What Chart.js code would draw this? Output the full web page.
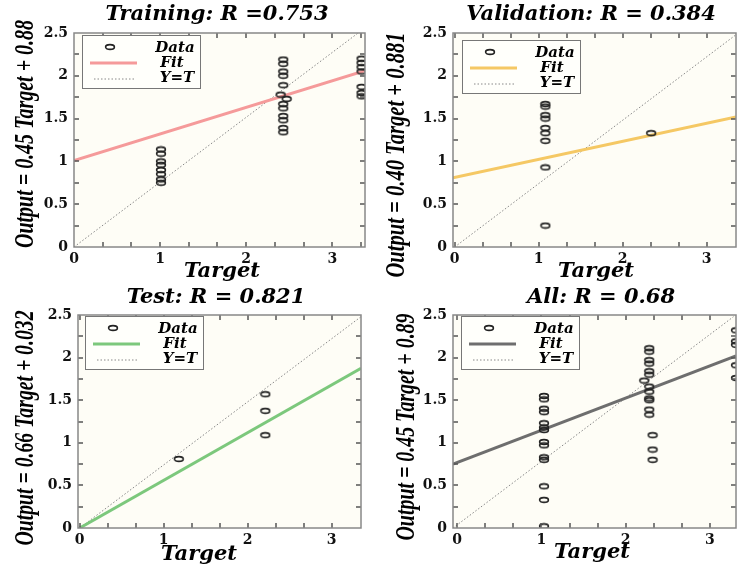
<!DOCTYPE html>
<html>
<head>
<meta charset="utf-8">
<script src="https://cdn.jsdelivr.net/npm/chart.js@4.4.1/dist/chart.umd.min.js"></script>
<style>
    html, body { margin: 0; padding: 0; background: #fff; }
    #wrap { position: relative; width: 742px; height: 567px; overflow: hidden; }
    .panel { position: absolute; }
    .panel canvas { display: block; }
</style>
</head>
<body>
<div id="wrap">
    <div class="panel" style="left:0;top:0"><canvas id="c1" width="371" height="283"></canvas></div>
    <div class="panel" style="left:371px;top:0"><canvas id="c2" width="371" height="283"></canvas></div>
    <div class="panel" style="left:0;top:283px"><canvas id="c3" width="371" height="284"></canvas></div>
    <div class="panel" style="left:371px;top:283px"><canvas id="c4" width="371" height="284"></canvas></div>
</div>
<script>
// 训练集
const trainTarget = [1.01, 1.01, 1.01, 1.01, 1.01, 1.01, 1.01, 1.01,
    2.43, 2.43, 2.43, 2.43, 2.43, 2.40, 2.47, 2.43, 2.43, 2.43, 2.43, 2.43, 2.43,
    3.34, 3.34, 3.34, 3.34, 3.34, 3.34, 3.34];
const trainOutput = [1.14, 1.09, 1.00, 0.96, 0.90, 0.85, 0.79, 0.75,
    2.19, 2.14, 2.05, 2.00, 1.89, 1.78, 1.73, 1.67, 1.62, 1.53, 1.48, 1.39, 1.34,
    2.20, 2.15, 2.10, 2.05, 1.87, 1.80, 1.76];
const trainFitX = [0, 3.38];
const trainFitY = [1.01, 2.06];
const trainIdX = [0, 3.3];
const trainIdY = [0, 2.5];

// 验证集
const valTarget = [1.08, 1.08, 1.08, 1.08, 1.08, 1.08, 1.08, 1.08, 1.08, 1.08, 2.34];
const valOutput = [1.89, 1.67, 1.64, 1.54, 1.50, 1.39, 1.33, 1.24, 0.93, 0.25, 1.33];
const valFitX = [-0.02, 3.35];
const valFitY = [0.81, 1.52];
const valIdX = [0, 3.35];
const valIdY = [0, 2.48];

// 测试集
const testTarget = [1.18, 2.21, 2.21, 2.21];
const testOutput = [0.81, 1.57, 1.375, 1.09];
const testFitX = [0, 3.35];
const testFitY = [0, 1.875];
const testIdX = [0, 3.35];
const testIdY = [0, 2.48];

// 全部
const allTarget = [1.03, 1.03, 1.03, 1.03, 1.03, 1.03, 1.03, 1.03, 1.03, 1.03, 1.03, 1.03, 1.03, 1.03,
    2.28, 2.28, 2.28, 2.28, 2.28, 2.28, 2.22, 2.28, 2.28, 2.28, 2.28, 2.28, 2.28, 2.32, 2.32, 2.32,
    3.31, 3.31, 3.31, 3.31, 3.31];
const allOutput = [1.55, 1.51, 1.40, 1.36, 1.23, 1.18, 1.15, 1.01, 0.97, 0.83, 0.80, 0.49, 0.33, 0.02,
    2.11, 2.07, 1.97, 1.93, 1.84, 1.80, 1.73, 1.66, 1.60, 1.52, 1.50, 1.39, 1.33, 1.09, 0.92, 0.80,
    2.32, 2.19, 2.15, 1.91, 1.76];
const allFitX = [-0.05, 3.31];
const allFitY = [0.75, 2.02];
const allIdX = [-0.05, 3.28];
const allIdY = [0, 2.48];

const yTicks = [0, 0.5, 1, 1.5, 2, 2.5];
const xTicks = [0, 1, 2, 3];
const xMinorStep = 1 / 3;
const yMinorStep = 0.25;

const panels = [
    { id: 'c1', title: 'Training: R =0.753', yTitle: 'Output = 0.45 Target + 0.88',
      target: trainTarget, output: trainOutput, fitX: trainFitX, fitY: trainFitY, idX: trainIdX, idY: trainIdY,
      color: '#f59a9a', xMin: 0, xMax: 3.38,
      area: { left: 74, top: 33, right: 370, bottom: 247 },
      titlePos: [217, 15], xTitlePos: [222, 272], yTitlePos: [33, 134, 228], legendPos: [8, 2] },
    { id: 'c2', title: 'Validation: R = 0.384', yTitle: 'Output = 0.40 Target + 0.881',
      target: valTarget, output: valOutput, fitX: valFitX, fitY: valFitY, idX: valIdX, idY: valIdY,
      color: '#f5c864', xMin: -0.02, xMax: 3.35,
      area: { left: 82, top: 33, right: 370, bottom: 247 },
      titlePos: [220, 15], xTitlePos: [225, 272], yTitlePos: [33, 155, 245], legendPos: [9, 7] },
    { id: 'c3', title: 'Test: R = 0.821', yTitle: 'Output = 0.66 Target + 0.032',
      target: testTarget, output: testOutput, fitX: testFitX, fitY: testFitY, idX: testIdX, idY: testIdY,
      color: '#7cc87c', xMin: -0.02, xMax: 3.35,
      area: { left: 78, top: 32, right: 361, bottom: 245 },
      titlePos: [216, 15], xTitlePos: [199, 272], yTitlePos: [33, 145, 235], legendPos: [7, 1] },
    { id: 'c4', title: 'All: R = 0.68', yTitle: 'Output = 0.45 Target + 0.89',
      target: allTarget, output: allOutput, fitX: allFitX, fitY: allFitY, idX: allIdX, idY: allIdY,
      color: '#6e6e6e', xMin: -0.05, xMax: 3.31,
      area: { left: 82, top: 32, right: 370, bottom: 245 },
      titlePos: [230, 15], xTitlePos: [221, 270], yTitlePos: [43, 144, 227], legendPos: [8, 1] }
];

// 椭圆数据点
function makeMarker() {
    const c = document.createElement('canvas');
    c.width = 12;
    c.height = 8;
    const g = c.getContext('2d');
    g.strokeStyle = '#222';
    g.lineWidth = 1.6;
    g.beginPath();
    g.ellipse(6, 4, 4.4, 2.4, 0, 0, Math.PI * 2);
    g.stroke();
    return c;
}
const marker = makeMarker();

function seg(ctx, x1, y1, x2, y2) {
    ctx.moveTo(x1, y1);
    ctx.lineTo(x2, y2);
}

// 边框、内刻度、图例、标题
function decorPlugin(p) {
    return {
        id: 'decor',
        beforeDraw(chart) {
            const { ctx, chartArea: a } = chart;
            ctx.save();
            ctx.fillStyle = '#fefdf6';
            ctx.fillRect(a.left, a.top, a.right - a.left, a.bottom - a.top);
            ctx.restore();
        },
        afterDatasetsDraw(chart) {
            const { ctx, chartArea: a } = chart;
            const xs = chart.scales.x, ys = chart.scales.y;
            ctx.save();
            ctx.setLineDash([]);
            ctx.strokeStyle = '#555';
            ctx.lineWidth = 1.5;
            ctx.beginPath();
            for (let k = Math.ceil(p.xMin / xMinorStep); k * xMinorStep < p.xMax; k++) {
                const px = Math.round(xs.getPixelForValue(k * xMinorStep));
                if (px <= a.left + 1 || px >= a.right - 1) continue;
                seg(ctx, px, a.bottom, px, a.bottom - 5);
                seg(ctx, px, a.top, px, a.top + 5);
            }
            for (let k = 1; k * yMinorStep < 2.5; k++) {
                const py = Math.round(ys.getPixelForValue(k * yMinorStep));
                seg(ctx, a.left, py, a.left + 5, py);
                seg(ctx, a.right, py, a.right - 5, py);
            }
            ctx.stroke();
            ctx.strokeStyle = '#888';
            ctx.lineWidth = 1.5;
            ctx.strokeRect(a.left, a.top, a.right - a.left, a.bottom - a.top);

            // 图例
            const bx = a.left + p.legendPos[0], by = a.top + p.legendPos[1];
            const ds = chart.data.datasets;
            ctx.fillStyle = '#fffffb';
            ctx.fillRect(bx, by, 118, 53);
            ctx.strokeStyle = '#777';
            ctx.lineWidth = 1;
            ctx.strokeRect(bx + 0.5, by + 0.5, 118, 53);
            ctx.drawImage(marker, bx + 28 - 6, by + 12 - 4);
            ctx.strokeStyle = ds[1].borderColor;
            ctx.lineWidth = 3;
            ctx.beginPath();
            seg(ctx, bx + 8, by + 28, bx + 55, by + 28);
            ctx.stroke();
            ctx.strokeStyle = ds[2].borderColor;
            ctx.lineWidth = 1;
            ctx.setLineDash([1.5, 2]);
            ctx.beginPath();
            seg(ctx, bx + 12, by + 44, bx + 52, by + 44);
            ctx.stroke();
            ctx.setLineDash([]);
            ctx.fillStyle = '#000';
            ctx.font = 'italic bold 15px "DejaVu Serif"';
            ctx.textAlign = 'center';
            ctx.textBaseline = 'middle';
            ctx.fillText(ds[0].label, bx + 93, by + 13);
            ctx.fillText(ds[1].label, bx + 90, by + 28);
            ctx.fillText(ds[2].label, bx + 95, by + 43);
            ctx.restore();
        },
        afterDraw(chart) {
            const ctx = chart.ctx;
            ctx.save();
            ctx.fillStyle = '#000';
            ctx.textAlign = 'center';
            ctx.textBaseline = 'middle';
            ctx.font = 'italic bold 21px "DejaVu Serif"';
            ctx.fillText(p.title, p.titlePos[0], p.titlePos[1]);
            ctx.fillText('Target', p.xTitlePos[0], p.xTitlePos[1]);

            // 纵轴标题（压窄）
            ctx.font = 'italic bold 28px "Liberation Serif"';
            ctx.textBaseline = 'alphabetic';
            const w = ctx.measureText(p.yTitle).width;
            ctx.translate(p.yTitlePos[0], p.yTitlePos[1]);
            ctx.rotate(-Math.PI / 2);
            ctx.scale(p.yTitlePos[2] / w, 1);
            ctx.fillText(p.yTitle, 0, 0);
            ctx.restore();
        }
    };
}

const tickFont = { family: 'DejaVu Serif', size: 14, weight: 'bold' };

function makePanel(p) {
    const canvas = document.getElementById(p.id);
    const W = canvas.width, H = canvas.height;
    return new Chart(canvas.getContext('2d'), {
        type: 'scatter',
        data: {
            datasets: [{
                label: 'Data',
                data: p.target.map((x, i) => ({ x: x, y: p.output[i] })),
                pointStyle: marker,
                pointRadius: 5
            }, {
                label: 'Fit',
                data: p.fitX.map((x, i) => ({ x: x, y: p.fitY[i] })),
                showLine: true,
                borderColor: p.color,
                borderWidth: 3,
                pointRadius: 0
            }, {
                label: 'Y=T',
                data: p.idX.map((x, i) => ({ x: x, y: p.idY[i] })),
                showLine: true,
                borderColor: '#888',
                borderWidth: 1,
                borderDash: [1.5, 2],
                pointRadius: 0
            }]
        },
        options: {
            responsive: false,
            animation: false,
            events: [],
            layout: {
                padding: { left: 0, top: p.area.top, right: W - p.area.right, bottom: 0 }
            },
            scales: {
                x: {
                    type: 'linear',
                    min: p.xMin,
                    max: p.xMax,
                    afterFit: s => { s.height = H - p.area.bottom; },
                    afterBuildTicks: s => { s.ticks = xTicks.map(v => ({ value: v })); },
                    grid: { display: false, drawTicks: false },
                    border: { display: false },
                    ticks: {
                        autoSkip: false,
                        maxRotation: 0,
                        padding: 4,
                        color: '#111',
                        font: tickFont,
                        callback: v => String(v)
                    }
                },
                y: {
                    min: 0,
                    max: 2.5,
                    afterFit: s => { s.width = p.area.left; },
                    afterBuildTicks: s => { s.ticks = yTicks.map(v => ({ value: v })); },
                    grid: { display: false, drawTicks: false },
                    border: { display: false },
                    ticks: {
                        autoSkip: false,
                        padding: 6,
                        color: '#111',
                        font: tickFont,
                        callback: v => String(v)
                    }
                }
            },
            plugins: {
                legend: { display: false },
                tooltip: { enabled: false }
            }
        },
        plugins: [decorPlugin(p)]
    });
}

document.addEventListener('DOMContentLoaded', () => {
    panels.forEach(makePanel);
});
</script>
</body>
</html>
